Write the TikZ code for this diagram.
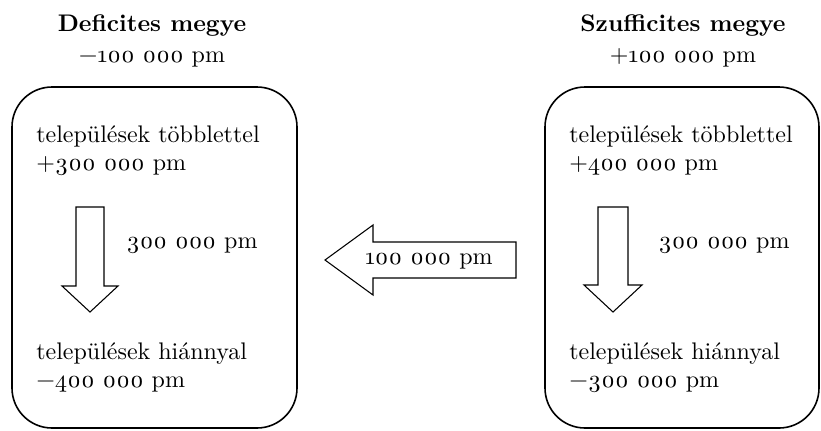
\documentclass[tikz,border=0pt]{standalone}
\usepackage{fontspec}
\setmainfont{lmroman10-regular.otf}[BoldFont=lmroman10-bold.otf, Numbers=OldStyle]
\usepackage{tikz}
\usetikzlibrary{positioning,calc}

\tikzset{
    county/.style={draw, line width=1.2pt, rounded corners=30pt, inner sep=0pt},
    blockarrow/.style={draw, line width=0.8pt, fill=white},
    label/.style={inner sep=0pt, align=left, font=\fontsize{18}{21}\selectfont},
    title/.style={inner sep=0pt, align=center, font=\fontsize{18}{21}\selectfont}
}

\begin{document}
\begin{tikzpicture}[x=0.75pt, y=-0.75pt]
    \useasboundingbox (0,0) rectangle (821,430);

    % deficites megye
    \node[title, anchor=base] (deftitle) at (152,31) {\textbf{Deficites megye}};
    \node[title, anchor=base] (defsum) at (152,62) {−100 000 pm};
    \node[county, minimum width=213.75pt, minimum height=255.75pt] (defbox) at (154.5,257.5) {};
    \node[label, anchor=base west] (defplus) at (36,170) {települések többlettel\\+300 000 pm};
    \node[label, anchor=base west] (defminus) at (36,387) {települések hiánnyal\\−400 000 pm};
    \coordinate (defarrow) at (90,207);
    \draw[blockarrow] (defarrow) ++(-14,0) -- ++(28,0) -- ++(0,79) -- ++(14,0) -- ++(-28,26) -- ++(-28,-26) -- ++(14,0) -- cycle;
    \node[label, anchor=west] (defflow) at (126,245) {300 000 pm};

    % szufficites megye
    \node[title, anchor=base] (suftitle) at (683,31) {\textbf{Szufficites megye}};
    \node[title, anchor=base] (sufsum) at (683,62) {+100 000 pm};
    \node[county, minimum width=205.5pt, minimum height=255.75pt] (sufbox) at (682,257.5) {};
    \node[label, anchor=base west] (sufplus) at (569,170) {települések többlettel\\+400 000 pm};
    \node[label, anchor=base west] (sufminus) at (569,387) {települések hiánnyal\\−300 000 pm};
    \coordinate (sufarrow) at (613,207);
    \draw[blockarrow] (sufarrow) ++(-15,0) -- ++(30,0) -- ++(0,78) -- ++(14,0) -- ++(-29,27) -- ++(-29,-27) -- ++(14,0) -- cycle;
    \node[label, anchor=west] (sufflow) at (658,245) {300 000 pm};

    % transfer between counties
    \coordinate (tip) at (325,260);
    \draw[blockarrow] (tip) -- ++(48,-35) -- ++(0,17) -- ++(143,0) -- ++(0,36) -- ++(-143,0) -- ++(0,17) -- cycle;
    \node[label, anchor=center] (transfer) at (429,261) {100 000 pm};
\end{tikzpicture}
\end{document}
